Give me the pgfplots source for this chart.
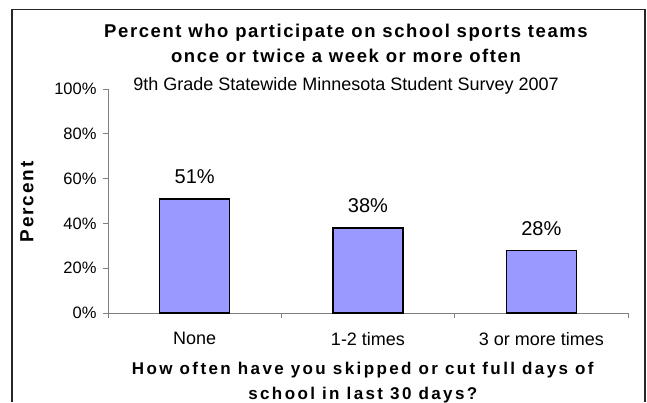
\documentclass[border=0pt]{standalone}
\usepackage{fontspec}
\setmainfont{Liberation Sans}
\usepackage{pgfplots}
\pgfplotsset{compat=1.18}
\definecolor{barfill}{HTML}{9999FF}
\definecolor{axgray}{HTML}{808080}
\begin{document}
\begin{tikzpicture}[x=1pt,y=1pt]
\useasboundingbox (0,0) rectangle (647,402);
\begin{axis}[
  at={(108pt,89pt)}, anchor=south west,
  scale only axis, width=520pt, height=224pt,
  xmin=-0.5, xmax=2.5, ymin=0, ymax=100,
  axis x line=bottom, axis y line=left,
  axis line style={-, draw=axgray, line width=1pt},
  clip=false,
  /pgf/number format/assume math mode=true,
  xtick={-0.5,0.5,1.5,2.5}, xticklabels={},
  extra x ticks={0,1,2},
  extra x tick labels={None,1-2 times,3 or more times},
  extra x tick style={major tick length=0pt},
  ytick={0,20,40,60,80,100},
  yticklabel={\pgfmathprintnumber{\tick}\%},
  tick align=outside, major tick length=5pt,
  tick style={draw=axgray, line width=1pt},
  yticklabel style={font=\fontsize{16.5}{18}\selectfont, xshift=-3pt},
  xticklabel style={font=\fontsize{18}{20}\selectfont, yshift=-16pt},
  ybar, bar width=70pt,
  nodes near coords={\pgfmathprintnumber{\pgfplotspointmeta}\%},
  every node near coord/.append style={font=\fontsize{20}{22}\selectfont, anchor=center, yshift=22pt},
  title={Percent who participate on school sports teams\\once or twice a week or more often},
  title style={at={(axis description cs:0.4577,1.1763)}, anchor=center, align=center,
    font=\fontsize{18.5}{25}\selectfont\bfseries\addfontfeatures{LetterSpace=8.6}},
  xlabel={How often have you skipped or cut full days of\\school in last 30 days?},
  xlabel style={at={(axis description cs:0.49,-0.31)}, anchor=center, align=center,
    font=\fontsize{17}{25}\selectfont\bfseries\addfontfeatures{LetterSpace=14}},
  ylabel={Percent},
  every axis y label/.style={at={(axis description cs:-0.1558,0.4955)}, rotate=90, anchor=center,
    font=\fontsize{19}{20}\selectfont\bfseries\addfontfeatures{LetterSpace=10}},
]
\addplot[fill=barfill, draw=black, line width=1.5pt] coordinates {(0,51) (1,38) (2,28)};
\node[anchor=center, font=\fontsize{18}{20}\selectfont] at (axis description cs:0.4577,1.0134) {9th Grade Statewide Minnesota Student Survey 2007};
\end{axis}
\draw[black!85, line width=1.2pt] (12,0) -- (12,392.7) -- (645,392.7) -- (645,0);
\end{tikzpicture}
\end{document}
